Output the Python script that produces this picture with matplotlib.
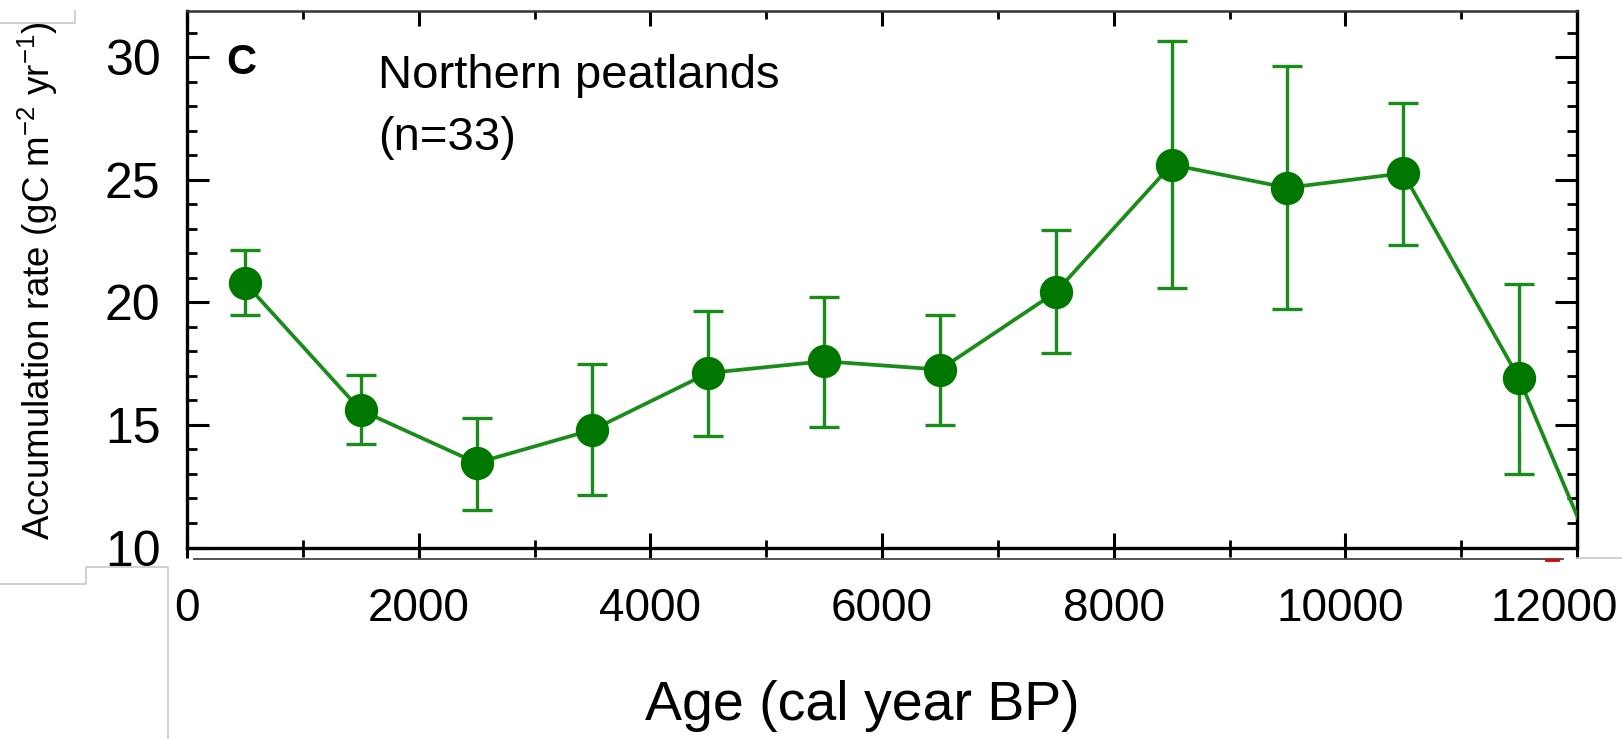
import matplotlib
matplotlib.use("Agg")
import matplotlib.pyplot as plt
from matplotlib.lines import Line2D
from matplotlib.ticker import MultipleLocator
from matplotlib.transforms import ScaledTranslation

# ---- data ----
ages = [500, 1500, 2500, 3500, 4500, 5500, 6500, 7500, 8500, 9500, 10500, 11500, 12500]
rate = [20.8, 15.6, 13.45, 14.8, 17.12, 17.6, 17.26, 20.42, 25.62, 24.68, 25.27, 16.9, 5.7]
err_upper = [22.15, 17.03, 15.3, 17.48, 19.66, 20.24, 19.5, 22.96, 30.65, 29.63, 28.15, 20.77, 5.7]
err_lower = [19.5, 14.22, 11.55, 12.15, 14.54, 14.92, 14.98, 17.93, 20.58, 19.72, 22.33, 12.99, 5.7]
xticks = [0, 2000, 4000, 6000, 8000, 10000, 12000]
yticks = [10, 15, 20, 25, 30]

plt.rcParams['font.family'] = ['Liberation Sans', 'DejaVu Sans']
plt.rcParams['mathtext.fontset'] = 'custom'
plt.rcParams['mathtext.rm'] = 'Liberation Sans'
plt.rcParams['mathtext.it'] = 'Liberation Sans'
plt.rcParams['mathtext.bf'] = 'Liberation Sans:bold'

W, H = 1622, 739
fig = plt.figure(figsize=(W / 100, H / 100), dpi=100)
left, right, top, bottom = 187, 1577, 10.8, 547.5
ax = fig.add_axes([left / W, 1 - bottom / H, (right - left) / W, (bottom - top) / H])

lo = [r - l for r, l in zip(rate, err_lower)]
hi = [u - r for r, u in zip(rate, err_upper)]
ax.errorbar(ages, rate, yerr=[lo, hi], fmt='none', ecolor='#1a8c1a',
            elinewidth=2.4, capsize=10.5, capthick=2.4, zorder=2)
ax.plot(ages, rate, '-', color='#1a8c1a', lw=2.7, zorder=3)
ax.plot(ages, rate, 'o', color='#007800', markersize=24, markeredgewidth=0, zorder=4)

ax.set_xlim(0, 12000)
ax.set_ylim(10, 31.9)
ax.set_xticks(xticks)
ax.set_yticks(yticks)
ax.xaxis.set_minor_locator(MultipleLocator(1000))
ax.yaxis.set_minor_locator(MultipleLocator(1))

px = 0.72
for s in ['left', 'right', 'bottom']:
    ax.spines[s].set_linewidth(2.4)
ax.spines['top'].set_linewidth(1.8)
ax.spines['top'].set_color('#333333')

ax.tick_params(axis='y', which='major', direction='in', length=22 * px, width=2.2,
               left=True, right=True, labelsize=36, pad=19)
ax.tick_params(axis='y', which='minor', direction='in', length=10 * px, width=2.0,
               left=True, right=True)
ax.tick_params(axis='x', which='major', direction='in', length=15 * px, width=2.2,
               top=True, bottom=True, labelsize=33, pad=28.5)
ax.tick_params(axis='x', which='minor', direction='in', length=8 * px, width=2.0,
               top=True, bottom=True)

sec = ax.secondary_xaxis('bottom')
sec.set_xticks(xticks)
sec.xaxis.set_minor_locator(MultipleLocator(1000))
sec.tick_params(axis='x', which='major', direction='out', length=10 * px, width=2.2, labelbottom=False)
sec.tick_params(axis='x', which='minor', direction='out', length=9 * px, width=2.0, labelbottom=False)
sec.spines['bottom'].set_visible(False)

# nudge the last x tick labels left, as in the source
fig.canvas.draw()
labs = ax.get_xticklabels()
shifts = {'10000': -5, '12000': -23}
for lab in labs:
    s = lab.get_text()
    if s in shifts:
        lab.set_transform(lab.get_transform() + ScaledTranslation(shifts[s] / 100, 0, fig.dpi_scale_trans))

# text labels
fig.text(226 / W, 1 - 73.5 / H, 'C', fontsize=30, fontweight='bold', ha='left', va='baseline')
fig.text(378 / W, 1 - 88.3 / H, 'Northern peatlands', fontsize=34, ha='left', va='baseline')
fig.text(378 / W, 1 - 150 / H, '(n=33)', fontsize=34, ha='left', va='baseline')
fig.text(862 / W, 1 - 706 / H, 'Age (cal year BP)', fontsize=40, ha='center', va='center')
fig.text(38 / W, 1 - 281 / H, 'Accumulation rate (gC m$^{-2}$ yr$^{-1}$)', fontsize=26.5,
         rotation=90, ha='center', va='center')

# residual frame lines of the source figure
g = '#c8c8c8'
def fl(xs, ys, c=g, lw=1.2):
    fig.add_artist(Line2D([x / W for x in xs], [1 - y / H for y in ys], color=c, lw=lw))
fl([0, 75, 75], [23, 23, 10.5])
fl([0, 86, 86, 168, 168], [584, 584, 567, 567, 739])
fl([1577, 1622], [558, 558])
fl([194, 1563], [559, 559], c='#444444', lw=1.3)
fl([1546, 1558], [559.5, 559.5], c='#e00000', lw=2.0)

fig.savefig('out.png', dpi=100)
